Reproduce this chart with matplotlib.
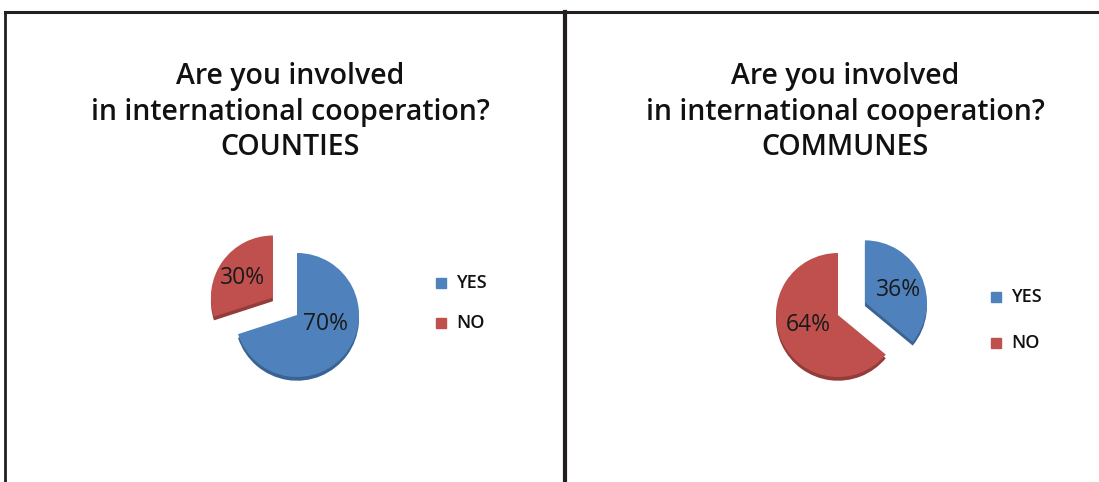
import matplotlib
matplotlib.use('Agg')
import matplotlib.pyplot as plt
from matplotlib.lines import Line2D

plt.rcParams['font.family'] = ['Open Sans', 'DejaVu Sans']

# survey answers
answers = ['YES', 'NO']
counties = [70, 30]
communes = [36, 64]
titles = ['Are you involved\nin international cooperation?\nCOUNTIES',
          'Are you involved\nin international cooperation?\nCOMMUNES']

blue = '#4F81BD'
red = '#C0504D'
edge_blue = '#3A6394'
edge_red = '#943C3A'

W, H = 1099, 482
fig = plt.figure(figsize=(W / 100, H / 100), dpi=100)
fig.patch.set_facecolor('white')

def px_axes(cx, cy, r, lim=1.6):
    # axes centred on pixel (cx, cy) where one data unit = r pixels
    size = 2 * lim * r
    return fig.add_axes([(cx - size / 2) / W, (H - cy - size / 2) / H, size / W, size / H])

def draw_pie(ax, values, explode, nudge):
    # darker copy slightly below gives the tilted-disc edge
    ax.pie(values, colors=[edge_blue, edge_red], startangle=90, counterclock=False,
           explode=explode, center=(0, -0.06), wedgeprops=dict(linewidth=0))
    wedges, texts, autotexts = ax.pie(values, colors=[blue, red], startangle=90,
                                      counterclock=False, explode=explode,
                                      autopct='%d%%', pctdistance=0.6,
                                      wedgeprops=dict(linewidth=0))
    for t, (dx, dy) in zip(autotexts, nudge):
        x, y = t.get_position()
        t.set_position((x + dx, y + dy))
        t.set_fontsize(16.5)
        t.set_color('#1a1a1a')
    ax.set_xlim(-1.6, 1.6)
    ax.set_ylim(-1.6, 1.6)
    ax.set_aspect('equal')
    ax.axis('off')

ax1 = px_axes(297, 315, 62)
draw_pie(ax1, counties, [0, 0.48], [(-0.03, 0.2), (0, -0.04)])
ax2 = px_axes(838, 315, 62)
draw_pie(ax2, communes, [0.48, 0], [(0, -0.05), (0.06, 0.1)])

# titles
fig.text(290 / W, 1 - 112 / H, titles[0], ha='center', va='center',
         fontsize=20.5, fontweight='semibold', linespacing=1.3, color='#111111')
fig.text(845 / W, 1 - 112 / H, titles[1], ha='center', va='center',
         fontsize=20.5, fontweight='semibold', linespacing=1.3, color='#111111')

# legends
for (lx, ys) in [(441, (283, 323)), (996, (297, 343))]:
    for lab, col, y in zip(answers, [blue, red], ys):
        fig.add_artist(plt.Rectangle(((lx - 5) / W, 1 - (y + 5) / H), 10 / W, 10 / H,
                                     transform=fig.transFigure, color=col))
        fig.text((lx + 15) / W, 1 - y / H, lab, ha='left', va='center',
                 fontsize=13, fontweight='semibold', color='#111111')

# panel frame
frame = '#231f20'
fig.add_artist(Line2D([5 / W, 1], [1 - 12 / H, 1 - 12 / H], transform=fig.transFigure,
                      color=frame, linewidth=2.2))
fig.add_artist(Line2D([5 / W, 5 / W], [0, 1 - 12 / H], transform=fig.transFigure,
                      color=frame, linewidth=2))
fig.add_artist(Line2D([565 / W, 565 / W], [0, 1 - 12 / H], transform=fig.transFigure,
                      color=frame, linewidth=3))

fig.savefig('out.png', dpi=100)
